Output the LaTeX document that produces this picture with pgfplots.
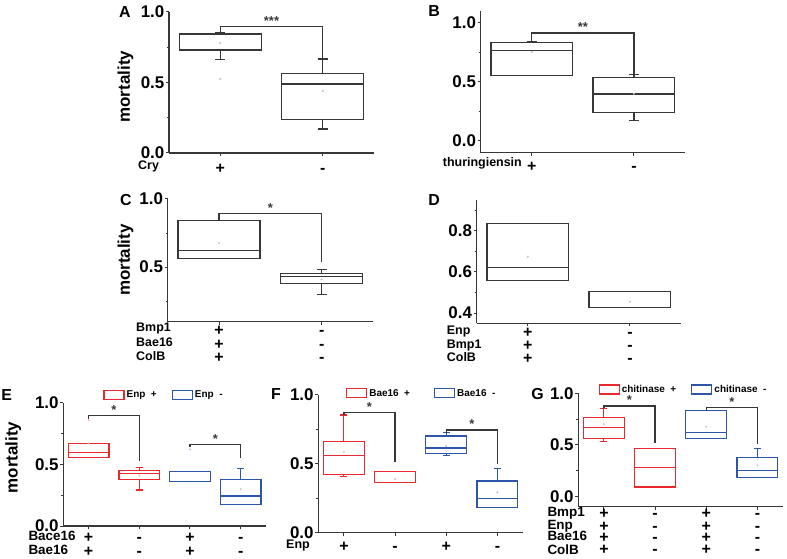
\documentclass[border=0pt]{standalone}
\usepackage{fontspec}
\setmainfont{Liberation Sans}
\usepackage{pgfplots}
\pgfplotsset{compat=1.18}
\usepgfplotslibrary{statistics}
\definecolor{axc}{RGB}{55,55,55}
\definecolor{bred}{RGB}{235,40,45}
\definecolor{bblue}{RGB}{45,85,170}
\definecolor{mgray}{RGB}{195,195,195}
\pgfplotsset{
  panel/.style={
    scale only axis, anchor=south west, clip=false,
    axis x line*=bottom, axis y line*=left,
    axis line style={-, draw=axc, line width=1.4bp},
    xmin=0.5, xmax=2.5, xtick={1,2}, xticklabels={,,},
    major tick length=3bp, minor tick length=2bp,
    tick align=outside,
    tick style={draw=axc, line width=1bp},
    yticklabel style={font=\bfseries\fontsize{17}{17}\selectfont, inner sep=1.5bp},
    /pgf/number format/assume math mode=true,
    /pgf/number format/fixed, /pgf/number format/fixed zerofill, /pgf/number format/precision=1,
    boxplot/draw direction=y,
    boxplot/box extend=0.8,
    boxplot/whisker extend=0.1,
  },
  four/.style={xmin=0.5, xmax=4.5, xtick={1,2,3,4}, xticklabels={,,,,}, boxplot/whisker extend=0.14},
  bx/.style={draw=axc, line width=1.2bp, solid, mark=none},
  rbx/.style={draw=bred, line width=1.2bp, solid, mark=none},
  bbx/.style={draw=bblue, line width=1.2bp, solid, mark=none},
  mean/.style={only marks, mark=*, mark size=0.8bp, mark options={draw=mgray, fill=mgray}},
  rmean/.style={only marks, mark=*, mark size=0.8bp, mark options={draw=bred!35, fill=bred!35}},
  bmean/.style={only marks, mark=*, mark size=0.8bp, mark options={draw=bblue!35, fill=bblue!35}},
  brk/.style={draw=axc, line width=1.3bp, mark=none},
  boxlegend/.style={legend image code/.code={\draw[##1] (0bp,-4.5bp) rectangle (20bp,4.5bp);}},
  leg/.style={legend style={draw=none, fill=none, inner sep=0pt, anchor=west,
     font=\bfseries\fontsize{10}{10}\selectfont, legend columns=2,
     /tikz/every even column/.append style={column sep=#1}}},
}
\tikzset{star/.style={anchor=base, font=\bfseries\fontsize{13}{13}\selectfont, text=axc, yshift=1bp},
  rowl/.style={anchor=base west, font=\bfseries\fontsize{12.5}{12.5}\selectfont, text=black, inner sep=0pt},
  rowlg/.style={rowl, font=\bfseries\fontsize{13.5}{12}\selectfont},
  pm/.style={anchor=base, font=\bfseries\fontsize{16}{12}\selectfont, text=black, inner sep=0pt},
  letter/.style={font=\bfseries\fontsize{16}{16}\selectfont, text=black, inner sep=0pt},
  ylab/.style={rotate=90, font=\bfseries\fontsize{17}{17}\selectfont, text=black, inner sep=0pt}}
\begin{document}
\begin{tikzpicture}[x=1bp,y=1bp]
\useasboundingbox (0bp,0bp) rectangle (787bp,559bp);

% ---------- A ----------
\begin{axis}[panel, at={(169bp,406bp)}, width=205bp, height=141bp,
  ymin=0, ymax=1, ytick={0,0.5,1}, minor ytick={0.25,0.75}]
\addplot[bx, boxplot prepared={draw position=1, lower whisker=0.665, lower quartile=0.73, median=0.84, upper quartile=0.85, upper whisker=0.855}] coordinates {};
\addplot[bx, boxplot prepared={draw position=2, lower whisker=0.17, lower quartile=0.24, median=0.49, upper quartile=0.565, upper whisker=0.667}] coordinates {};
\addplot[mean] coordinates {(1,0.78) (1,0.525) (2,0.44)};
\addplot[brk] coordinates {(1,0.858) (1,0.897) (2,0.897) (2,0.667)};
\node[star] at (axis cs:1.5,0.897) {***};
\end{axis}

% ---------- B ----------
\begin{axis}[panel, at={(480.7bp,406.3bp)}, width=204.3bp, height=141.6bp,
  ymin=-0.1, ymax=1.1, ytick={0,0.5,1}, minor ytick={0.25,0.75}]
\addplot[bx, boxplot prepared={draw position=1, lower whisker=0.551, lower quartile=0.551, median=0.769, upper quartile=0.836, upper whisker=0.845}] coordinates {};
\addplot[bx, boxplot prepared={draw position=2, lower whisker=0.175, lower quartile=0.243, median=0.398, upper quartile=0.537, upper whisker=0.563}] coordinates {};
\addplot[mean] coordinates {(1,0.754) (2,0.40)};
\addplot[brk] coordinates {(1,0.845) (1,0.915) (2,0.915) (2,0.563)};
\node[star] at (axis cs:1.5,0.915) {**};
\end{axis}

% ---------- C ----------
\begin{axis}[panel, at={(167.7bp,237.3bp)}, width=205.3bp, height=122.7bp,
  ymin=0.1, ymax=1, ytick={0.5,1}, minor ytick={0.25,0.75}]
\addplot[bx, boxplot prepared={draw position=1, lower whisker=0.563, lower quartile=0.563, median=0.624, upper quartile=0.84, upper whisker=0.84}] coordinates {};
\addplot[bx, boxplot prepared={draw position=2, lower whisker=0.30, lower quartile=0.381, median=0.43, upper quartile=0.452, upper whisker=0.483}] coordinates {};
\addplot[mean] coordinates {(1,0.678) (2,0.41)};
\addplot[brk] coordinates {(1,0.84) (1,0.896) (2,0.896) (2,0.54)};
\node[star] at (axis cs:1.5,0.896) {*};
\end{axis}

% ---------- D ----------
\begin{axis}[panel, at={(476.7bp,235.7bp)}, width=204.3bp, height=123.3bp,
  ymin=0.35, ymax=0.95, ytick={0.4,0.6,0.8}, minor ytick={0.5,0.7,0.9}]
\addplot[bx, boxplot prepared={draw position=1, lower whisker=0.559, lower quartile=0.559, median=0.623, upper quartile=0.834, upper whisker=0.834}] coordinates {};
\addplot[bx, boxplot prepared={draw position=2, lower whisker=0.425, lower quartile=0.425, median=0.428, upper quartile=0.504, upper whisker=0.504}] coordinates {};
\addplot[mean] coordinates {(1,0.674) (2,0.455)};
\end{axis}

% ---------- E ----------
\begin{axis}[panel, four, at={(63.3bp,33bp)}, width=202.7bp, height=123.3bp,
  ymin=0, ymax=1, ytick={0,0.5,1}, minor ytick={0.25,0.75}, leg=13bp,
  legend style={at={(axis description cs:0.197,1.065)}}]
\addlegendimage{boxlegend, draw=bred, line width=1.2bp}
\addlegendentry{Enp\ \ +}
\addlegendimage{boxlegend, draw=bblue, line width=1.2bp}
\addlegendentry{Enp\ \ -}
\addplot[rbx, boxplot prepared={draw position=1, lower whisker=0.558, lower quartile=0.558, median=0.594, upper quartile=0.668, upper whisker=0.668}] coordinates {};
\addplot[rbx, boxplot prepared={draw position=2, lower whisker=0.292, lower quartile=0.376, median=0.423, upper quartile=0.45, upper whisker=0.477}] coordinates {};
\addplot[bbx, boxplot prepared={draw position=3, lower whisker=0.36, lower quartile=0.36, median=0.363, upper quartile=0.441, upper whisker=0.441}] coordinates {};
\addplot[bbx, boxplot prepared={draw position=4, lower whisker=0.177, lower quartile=0.177, median=0.243, upper quartile=0.374, upper whisker=0.464}] coordinates {};
\addplot[rmean] coordinates {(1,0.858) (1,0.67) (2,0.41)};
\addplot[bmean] coordinates {(3,0.62) (4,0.30)};
\addplot[brk] coordinates {(1,0.87) (1,0.894) (2,0.894) (2,0.53)};
\addplot[brk] coordinates {(3,0.64) (3,0.662) (4,0.662) (4,0.553)};
\node[star] at (axis cs:1.5,0.894) {*};
\node[star] at (axis cs:3.5,0.662) {*};
\end{axis}

% ---------- F ----------
\begin{axis}[panel, four, at={(318.3bp,26.3bp)}, width=204.7bp, height=137.7bp,
  ymin=0, ymax=1, ytick={0,0.5,1}, minor ytick={0.25,0.75}, leg=22bp,
  legend style={at={(axis description cs:0.135,1.012)}}]
\addlegendimage{boxlegend, draw=bred, line width=1.2bp}
\addlegendentry{Bae16\ \ +}
\addlegendimage{boxlegend, draw=bblue, line width=1.2bp}
\addlegendentry{Bae16\ \ -}
\addplot[rbx, boxplot prepared={draw position=1, lower whisker=0.407, lower quartile=0.424, median=0.559, upper quartile=0.661, upper whisker=0.855}] coordinates {};
\addplot[rbx, boxplot prepared={draw position=2, lower whisker=0.363, lower quartile=0.363, median=0.366, upper quartile=0.443, upper whisker=0.443}] coordinates {};
\addplot[bbx, boxplot prepared={draw position=3, lower whisker=0.562, lower quartile=0.574, median=0.615, upper quartile=0.702, upper whisker=0.726}] coordinates {};
\addplot[bbx, boxplot prepared={draw position=4, lower whisker=0.184, lower quartile=0.184, median=0.25, upper quartile=0.375, upper whisker=0.468}] coordinates {};
\addplot[rmean] coordinates {(1,0.588) (2,0.39)};
\addplot[bmean] coordinates {(3,0.63) (4,0.293)};
\addplot[brk] coordinates {(1,0.855) (1,0.874) (2,0.874) (2,0.51)};
\addplot[brk] coordinates {(3,0.726) (3,0.746) (4,0.746) (4,0.50)};
\node[star] at (axis cs:1.5,0.874) {*};
\node[star] at (axis cs:3.5,0.746) {*};
\end{axis}

% ---------- G ----------
\begin{axis}[panel, four, at={(578.3bp,52.3bp)}, width=204.7bp, height=113.4bp,
  ymin=-0.1, ymax=1, ytick={0,0.5,1}, minor ytick={0.25,0.75}, leg=13bp,
  legend style={at={(axis description cs:0.098,1.034)}}]
\addlegendimage{boxlegend, draw=bred, line width=1.2bp}
\addlegendentry{chitinase\ \ +}
\addlegendimage{boxlegend, draw=bblue, line width=1.2bp}
\addlegendentry{chitinase\ \ -}
\addplot[rbx, boxplot prepared={draw position=1, lower whisker=0.53, lower quartile=0.562, median=0.668, upper quartile=0.769, upper whisker=0.855}] coordinates {};
\addplot[rbx, boxplot prepared={draw position=2, lower whisker=0.091, lower quartile=0.091, median=0.278, upper quartile=0.465, upper whisker=0.465}] coordinates {};
\addplot[bbx, boxplot prepared={draw position=3, lower whisker=0.562, lower quartile=0.562, median=0.623, upper quartile=0.833, upper whisker=0.833}] coordinates {};
\addplot[bbx, boxplot prepared={draw position=4, lower whisker=0.184, lower quartile=0.184, median=0.252, upper quartile=0.375, upper whisker=0.468}] coordinates {};
\addplot[rmean] coordinates {(1,0.70)};
\addplot[bmean] coordinates {(3,0.677) (4,0.30)};
\addplot[brk] coordinates {(1,0.855) (1,0.877) (2,0.877) (2,0.52)};
\addplot[brk] coordinates {(3,0.833) (3,0.865) (4,0.865) (4,0.51)};
\node[star] at (axis cs:1.5,0.877) {*};
\node[star] at (axis cs:3.5,0.865) {*};
\end{axis}

% ---------- letters and y labels ----------
\node[letter] at (125bp,547.3bp) {A};
\node[letter] at (434bp,548.2bp) {B};
\node[letter] at (126bp,359.3bp) {C};
\node[letter] at (434bp,359bp) {D};
\node[letter] at (6.7bp,164bp) {E};
\node[letter] at (276bp,165bp) {F};
\node[letter] at (537.5bp,165bp) {G};
\node[ylab] at (125.5bp,472.3bp) {mortality};
\node[ylab] at (125.5bp,299bp) {mortality};
\node[ylab] at (13.3bp,101.5bp) {mortality};

% ---------- row labels ----------
% A
\node[rowl] at (138bp,389bp) {Cry};
\node[pm] at (220.25bp,385.5bp) {+};
\node[pm] at (322.75bp,385.5bp) {-};
% B
\node[rowl] at (442.7bp,392bp) {thuringiensin};
\node[pm] at (531.8bp,387.5bp) {+};
\node[pm] at (633.9bp,387.5bp) {-};
% C
\node[rowl] at (136bp,227bp) {Bmp1};
\node[rowl] at (136bp,212.5bp) {Bae16};
\node[rowl] at (136bp,198bp) {ColB};
\foreach \yy in {223.5,209.5,196} {
  \node[pm] at (219bp,\yy bp) {+};
  \node[pm] at (321.7bp,\yy bp) {-};
}
% D
\node[rowl] at (446.7bp,224bp) {Enp};
\node[rowl] at (446.7bp,210bp) {Bmp1};
\node[rowl] at (446.7bp,197bp) {ColB};
\foreach \yy in {221.5,208,195.5} {
  \node[pm] at (527.8bp,\yy bp) {+};
  \node[pm] at (630bp,\yy bp) {-};
}
% E
\node[rowlg] at (28.3bp,19bp) {Bace16};
\node[rowlg] at (28.3bp,5bp) {Bae16};
\foreach \yy in {17,2.5} {
  \node[pm] at (88.6bp,\yy bp) {+};
  \node[pm] at (139.3bp,\yy bp) {-};
  \node[pm] at (190bp,\yy bp) {+};
  \node[pm] at (240.7bp,\yy bp) {-};
}
% F
\node[rowl] at (286bp,10.7bp) {Enp};
\node[pm] at (343.9bp,8bp) {+};
\node[pm] at (395bp,8bp) {-};
\node[pm] at (446.2bp,8bp) {+};
\node[pm] at (497.4bp,8bp) {-};
% G
\node[rowlg] at (547.3bp,42.3bp) {Bmp1};
\node[rowlg] at (547.3bp,30bp) {Enp};
\node[rowlg] at (547.3bp,18.3bp) {Bae16};
\node[rowlg] at (547.3bp,5bp) {ColB};
\foreach \yy in {40.6,27.6,16.2,4.2} {
  \node[pm] at (603.9bp,\yy bp) {+};
  \node[pm] at (655bp,\yy bp) {-};
  \node[pm] at (706.2bp,\yy bp) {+};
  \node[pm] at (757.4bp,\yy bp) {-};
}
\end{tikzpicture}
\end{document}
